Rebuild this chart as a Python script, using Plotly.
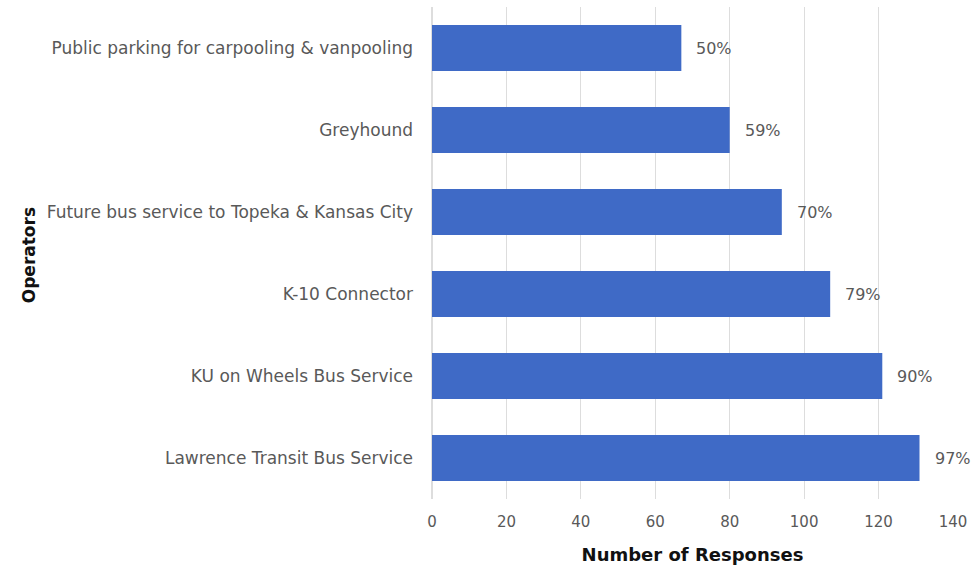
import plotly.graph_objects as go

categories = [
    "Public parking for carpooling & vanpooling",
    "Greyhound",
    "Future bus service to Topeka & Kansas City",
    "K-10 Connector",
    "KU on Wheels Bus Service",
    "Lawrence Transit Bus Service",
]
responses = [67, 80, 94, 107, 121, 131]
percent_labels = ["50%", "59%", "70%", "79%", "90%", "97%"]
x_ticks = [0, 20, 40, 60, 80, 100, 120, 140]

BAR = "#3F6AC6"
GRAY = "#595959"
FONT = "DejaVu Sans"

fig = go.Figure()
fig.add_trace(go.Bar(
    x=responses,
    y=categories,
    orientation="h",
    marker=dict(color=BAR, line=dict(width=0)),
    hoverinfo="x+y",
))

for cat, val, lab in zip(categories, responses, percent_labels):
    fig.add_annotation(
        x=val, y=cat, xref="x", yref="y", text=lab, showarrow=False,
        xanchor="left", xshift=13, font=dict(family=FONT, size=16, color=GRAY),
    )

fig.add_annotation(
    x=-0.795, y=0.495, xref="paper", yref="paper", text="<b>Operators</b>",
    showarrow=False, textangle=-90, font=dict(family=FONT, size=17, color="#111111"),
)

fig.update_layout(
    width=973, height=569,
    margin=dict(l=432, r=20, t=7, b=70),
    paper_bgcolor="white", plot_bgcolor="white",
    bargap=0.44,
    showlegend=False,
    font=dict(family=FONT, color=GRAY),
    xaxis=dict(
        range=[0, 140], tickvals=x_ticks, showgrid=True, gridcolor="#DDDDDD",
        gridwidth=1, zeroline=True, zerolinecolor="#DDDDDD", showline=False,
        tickfont=dict(family=FONT, size=15, color=GRAY), ticks="",
        ticklabelstandoff=12,
        title=dict(text="<b>Number of Responses</b>", standoff=18,
                   font=dict(family=FONT, size=18, color="#111111")),
        fixedrange=True,
    ),
    yaxis=dict(
        categoryorder="array", categoryarray=categories, autorange="reversed",
        showgrid=False, showline=False, ticks="", ticklabelstandoff=18,
        tickfont=dict(family=FONT, size=17, color=GRAY),
        fixedrange=True,
    ),
)

fig.write_html("out.html")
